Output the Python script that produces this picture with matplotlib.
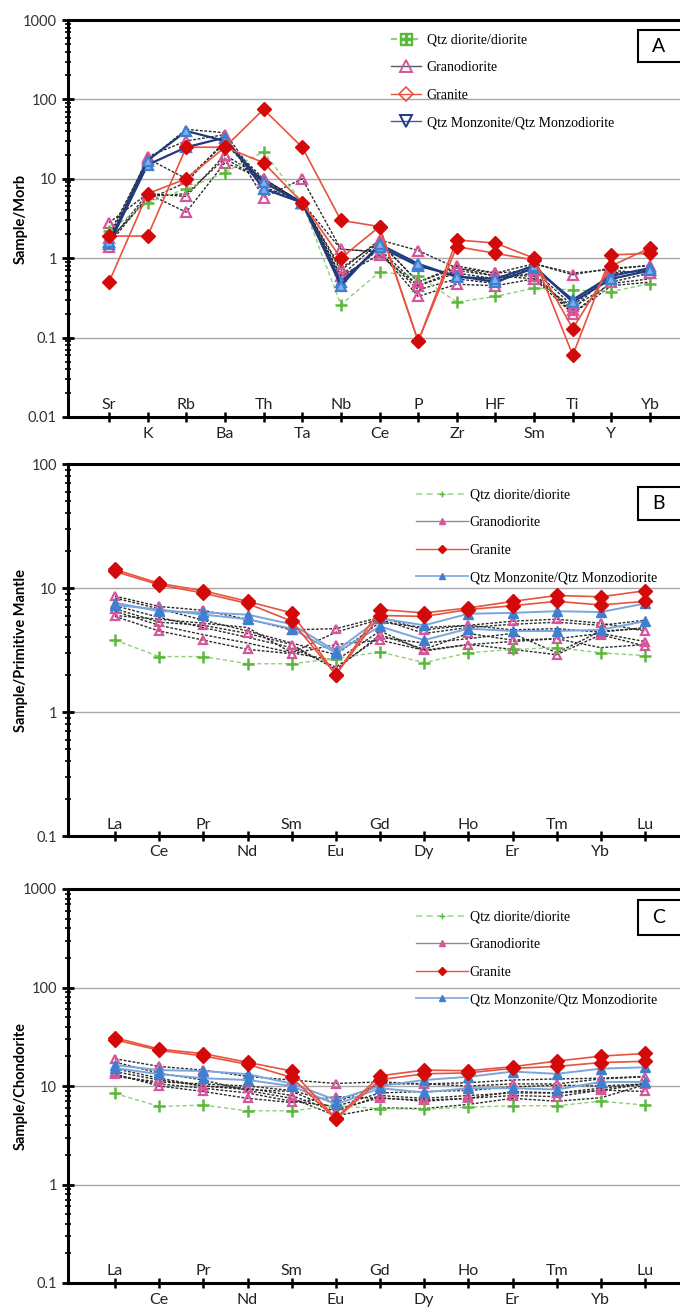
import numpy as np
import matplotlib
matplotlib.use('Agg')
import matplotlib.pyplot as plt
from matplotlib.lines import Line2D
from matplotlib.patches import Rectangle
from matplotlib.ticker import FixedLocator, LogLocator, NullFormatter

plt.rcParams['font.family'] = ['Lato', 'DejaVu Sans']

# ---------------- data ----------------
elementsA = ['Sr', 'K', 'Rb', 'Ba', 'Th', 'Ta', 'Nb', 'Ce', 'P', 'Zr', 'HF', 'Sm', 'Ti', 'Y', 'Yb']
elementsREE = ['La', 'Ce', 'Pr', 'Nd', 'Sm', 'Eu', 'Gd', 'Dy', 'Ho', 'Er', 'Tm', 'Yb', 'Lu']

legendLabels = ['Qtz diorite/diorite', 'Granodiorite', 'Granite', 'Qtz Monzonite/Qtz Monzodiorite']

# A : MORB normalised
qdA = [[2.2, 5.0, 7.5, 12, 22, 5.0, 0.26, 0.67, 0.6, 0.28, 0.33, 0.42, 0.40, 0.38, 0.48]]
gdA = [[2.8, 6.5, 3.8, 16, 10, 5.0, 0.70, 1.7, 1.25, 0.75, 0.65, 0.85, 0.62, 0.75, 0.80],
       [1.4, 19, 30, 36, 5.8, 10, 1.3, 1.2, 0.33, 0.47, 0.45, 0.55, 0.20, 0.50, 0.65],
       [1.6, 6.5, 6.0, 20, 10, 5.0, 0.60, 1.1, 0.45, 0.70, 0.60, 0.60, 0.22, 0.70, 0.65],
       [1.8, 18, 10, 28, 9.0, 5.0, 0.75, 1.6, 0.50, 0.80, 0.65, 0.70, 0.25, 0.65, 0.70]]
grA = [[0.5, 6.5, 10, 25, 75, 25, 3.0, 2.5, 0.09, 1.7, 1.55, 1.0, 0.06, 1.1, 1.15],
       [1.9, 1.9, 25, 25, 16, 5.0, 1.0, 2.5, 0.09, 1.4, 1.15, 0.95, 0.13, 0.8, 1.35]]
qmA = [[1.5, 15, 25, 33, 7.5, 5.0, 0.50, 1.4, 0.80, 0.60, 0.50, 0.75, 0.30, 0.60, 0.75],
       [1.6, 17, 40, 30, 9.0, 5.0, 0.45, 1.5, 0.85, 0.58, 0.55, 0.80, 0.28, 0.55, 0.70]]
othA = [[1.7, 5.5, 9, 30, 10, 5.0, 0.55, 1.3, 0.45, 0.65, 0.55, 0.65, 0.2, 0.45, 0.5],
        [2.0, 17, 42, 38, 8, 5.0, 0.6, 1.6, 0.5, 0.75, 0.6, 0.55, 0.24, 0.48, 0.55],
        [1.5, 6, 6.5, 18, 9.5, 5.0, 1.3, 1.2, 0.4, 0.55, 0.48, 0.85, 0.65, 0.72, 0.82]]

# B : primitive mantle normalised
qdB = [[3.8, 2.8, 2.8, 2.45, 2.45, 2.7, 3.05, 2.5, 3.0, 3.2, 3.3, 3.0, 2.85]]
gdB = [[8.6, 7.1, 6.6, 5.6, 4.6, 4.7, 5.8, 4.6, 5.0, 5.4, 5.6, 5.2, 4.5],
       [5.9, 4.5, 3.8, 3.2, 2.95, 3.5, 3.8, 3.15, 3.5, 3.2, 2.9, 4.2, 3.4],
       [6.8, 5.3, 5.0, 4.3, 3.5, 2.2, 4.2, 3.2, 4.3, 3.8, 3.9, 4.3, 3.7]]
grB = [[14.1, 10.9, 9.5, 7.8, 6.3, 2.0, 6.7, 6.3, 6.9, 7.8, 8.7, 8.5, 9.5],
       [13.6, 10.6, 9.1, 7.5, 5.4, 2.0, 6.0, 5.9, 6.7, 7.2, 7.8, 7.3, 7.8]]
qmB = [[7.6, 6.5, 6.35, 6.1, 5.1, 3.1, 5.7, 5.0, 6.2, 6.3, 6.5, 6.4, 7.5],
       [7.3, 6.7, 6.1, 5.6, 4.7, 3.0, 4.9, 3.8, 4.7, 4.5, 4.5, 4.6, 5.4]]
othB = [[8.3, 6.8, 5.5, 4.5, 3.6, 2.9, 5.3, 4.8, 5.0, 4.6, 4.7, 4.4, 4.8],
        [6.5, 5.0, 4.2, 3.6, 3.0, 2.6, 4.5, 3.1, 3.5, 3.7, 3.9, 3.3, 3.5],
        [7.2, 5.8, 4.8, 4.0, 3.3, 2.3, 4.0, 3.6, 3.9, 4.3, 3.0, 4.5, 4.7],
        [6.0, 5.6, 5.2, 4.8, 3.0, 4.4, 5.6, 4.3, 4.8, 5.1, 5.3, 5.0, 5.5]]

# C : chondrite normalised
qdC = [[8.4, 6.2, 6.4, 5.6, 5.6, 6.3, 5.9, 5.8, 6.1, 6.3, 6.3, 7.0, 6.4]]
gdC = [[18.9, 15.8, 14.5, 12.5, 11.5, 10.6, 11.0, 10.5, 10.0, 10.5, 10.5, 11.8, 12.4],
       [13.2, 10.0, 8.8, 7.5, 6.8, 7.8, 7.5, 7.2, 7.5, 8.0, 7.8, 9.1, 8.8],
       [14.0, 11.5, 10.0, 9.5, 8.0, 5.5, 8.0, 7.5, 8.0, 8.5, 8.5, 9.5, 10.5]]
grC = [[30.9, 23.7, 21.3, 17.4, 14.2, 4.7, 12.7, 14.5, 14.3, 15.7, 17.9, 20.1, 21.4],
       [29.5, 23.0, 20.2, 16.6, 12.2, 4.6, 11.6, 13.3, 13.6, 15.1, 15.8, 17.3, 17.8]]
qmC = [[16.3, 14.5, 14.2, 13.2, 10.6, 7.2, 10.0, 11.5, 12.4, 14.0, 13.3, 15.0, 15.5],
       [15.2, 13.2, 12.0, 11.5, 10.0, 6.5, 9.5, 8.6, 9.5, 9.5, 9.2, 11.0, 11.0]]
othC = [[17.5, 13.5, 11.5, 9.0, 7.5, 5.0, 6.0, 5.9, 6.5, 7.5, 7.0, 7.6, 10.3],
        [13.0, 10.5, 9.5, 8.5, 7.0, 6.2, 8.5, 8.8, 9.0, 9.8, 10.2, 10.0, 10.5],
        [15.0, 12.0, 10.0, 9.2, 8.8, 5.8, 7.6, 7.0, 7.5, 8.8, 8.5, 9.0, 10.5],
        [12.5, 11.0, 10.5, 10.0, 9.0, 6.8, 10.5, 10.5, 10.8, 11.5, 11.8, 12.0, 12.5]]

GREEN = '#5cb83c'
PINK = '#d8559b'
RED = '#d40a0a'
REDLINE = '#e8533f'
BLUE = '#3f7fd0'
NAVY = '#203a80'
DARK = '#2a2a2a'

fig = plt.figure(figsize=(6.8, 13.1), dpi=100)
W, H = 680.0, 1310.0


def makeAxes(top, bottom):
    # pixel positions -> figure fraction, axes runs past the right edge like the original
    ax = fig.add_axes([68 / W, 1 - bottom / H, 640 / W, (bottom - top) / H])
    return ax


def drawSeries(ax, x, qd, gd, gr, qm, oth, big):
    for s in oth:
        ax.plot(x, s, color=DARK, lw=1.0, ls=(0, (2, 1.2)), zorder=2)
    for s in gd:
        ax.plot(x, s, color=DARK, lw=1.0, ls=(0, (2, 1.2)), marker='^', ms=7 if big else 6,
                mfc='none', mec=PINK, mew=1.6, zorder=3)
    for s in qd:
        ax.plot(x, s, color='#8fcf7a', lw=1.0, ls=(0, (3, 2)), marker='+', ms=9,
                mec=GREEN, mew=1.8, zorder=3)
    for s in qm:
        if big:
            ax.plot(x, s, color=NAVY, lw=1.6, marker='^', ms=7, mfc='#7fb0e8', mec=BLUE, mew=1.6, zorder=4)
        else:
            ax.plot(x, s, color='#7aa6dc', lw=1.4, marker='^', ms=7, mfc=BLUE, mec=BLUE, zorder=4)
    for s in gr:
        ax.plot(x, s, color=REDLINE, lw=1.2, marker='D', ms=7, mfc=RED, mec=RED, zorder=5)


def styleAxes(ax, elements, xmin, xmax, ymin, ymax, ylabel, tag, boxTop, boxBottom):
    ax.set_yscale('log')
    ax.set_ylim(ymin, ymax)
    ax.set_xlim(xmin, xmax)
    decades = [10.0 ** k for k in range(int(np.log10(ymin)), int(np.log10(ymax)) + 1)]
    ax.yaxis.set_major_locator(FixedLocator(decades))
    ax.yaxis.set_minor_locator(LogLocator(base=10, subs=np.arange(2, 10)))
    ax.yaxis.set_minor_formatter(NullFormatter())
    ax.set_yticklabels([('%g' % d) for d in decades], fontsize=10.5, color='#333333')
    for d in decades[1:-1]:
        ax.axhline(d, color='#a8a8a8', lw=1.0, zorder=1)

    for sp in ['top', 'left', 'bottom']:
        ax.spines[sp].set_linewidth(2.2)
    ax.spines['right'].set_visible(False)
    ax.tick_params(axis='y', which='major', direction='inout', length=8, width=2, pad=4)
    ax.tick_params(axis='y', which='minor', direction='inout', length=4, width=1.2)

    x = np.arange(len(elements))
    ax.set_xticks(x)
    ax.set_xticklabels([])
    ax.tick_params(axis='x', direction='inout', length=7, width=1.8)
    # element names alternate above and below the axis
    trans = ax.get_xaxis_transform()
    for i, el in enumerate(elements):
        if i % 2 == 0:
            ax.text(i, 0.012, el, transform=trans, ha='center', va='bottom', fontsize=11.5, color='#222222')
        else:
            ax.text(i, -0.025, el, transform=trans, ha='center', va='top', fontsize=11.5, color='#222222')

    ax.set_ylabel(ylabel, fontsize=10.5, fontweight='bold', labelpad=8)
    ax.yaxis.set_label_coords(-40 / 640, 0.5)

    # panel letter box
    y0 = 1 - boxBottom / H
    y1 = 1 - boxTop / H
    fig.patches.append(Rectangle((638 / W, y0), 60 / W, y1 - y0, transform=fig.transFigure,
                                 fc='white', ec='black', lw=1.5, zorder=10))
    fig.text(659 / W, (y0 + y1) / 2, tag, ha='center', va='center', fontsize=14, zorder=11)


def addLegend(ax, big, anchor):
    if big:
        handles = [Line2D([], [], color='#8fcf7a', ls=(0, (3, 2)), marker='$\\boxplus$', ms=9, mec=GREEN, mfc=GREEN),
                   Line2D([], [], color='#505a70', lw=1.0, marker='^', ms=8, mfc='none', mec=PINK, mew=1.4),
                   Line2D([], [], color=REDLINE, lw=1.0, marker='D', ms=7, mfc='none', mec=REDLINE, mew=1.2),
                   Line2D([], [], color='#3a5fb0', lw=1.0, marker='v', ms=8, mfc='none', mec=NAVY, mew=1.4)]
        hl = 2.2
        tp = 0.4
    else:
        handles = [Line2D([], [], color='#b9dcae', ls=(0, (3, 2)), marker='+', ms=5, mec=GREEN),
                   Line2D([], [], color='#8a8a9a', lw=1.0, marker='^', ms=4, mfc=PINK, mec=PINK),
                   Line2D([], [], color=REDLINE, lw=1.0, marker='D', ms=4, mfc=RED, mec=RED),
                   Line2D([], [], color='#8db4e4', lw=1.4, marker='^', ms=5, mfc=BLUE, mec=BLUE)]
        hl = 3.8
        tp = 0.1
    leg = ax.legend(handles, legendLabels, loc='upper left', bbox_to_anchor=anchor, frameon=False,
                    prop={'family': 'Liberation Serif', 'size': 10}, handlelength=hl,
                    labelspacing=1.05, handletextpad=tp, borderaxespad=0)
    leg.set_zorder(12)


# ---------- panel A ----------
axA = makeAxes(20, 417)
xA = np.arange(len(elementsA))
drawSeries(axA, xA, qdA, gdA, grA, qmA, othA, True)
styleAxes(axA, elementsA, -1.06, -1.06 + 640 / 38.65, 0.01, 1000, 'Sample/Morb', 'A', 30, 62)
addLegend(axA, True, ((385 - 68) / 640, 1 - (28 - 20) / 397))

# ---------- panel B ----------
axB = makeAxes(464, 836)
xB = np.arange(len(elementsREE))
drawSeries(axB, xB, qdB, gdB, grB, qmB, othB, False)
styleAxes(axB, elementsREE, -1.064, -1.064 + 640 / 44.17, 0.1, 100, 'Sample/Primitive Mantle', 'B', 487, 520)
addLegend(axB, False, ((410 - 68) / 640, 1 - (483 - 464) / 372))

# ---------- panel C ----------
axC = makeAxes(889, 1283)
drawSeries(axC, xB, qdC, gdC, grC, qmC, othC, False)
styleAxes(axC, elementsREE, -1.064, -1.064 + 640 / 44.17, 0.1, 1000, 'Sample/Chondorite', 'C', 900, 935)
addLegend(axC, False, ((410 - 68) / 640, 1 - (905 - 889) / 394))

fig.savefig('out.png', dpi=100, facecolor='white')
